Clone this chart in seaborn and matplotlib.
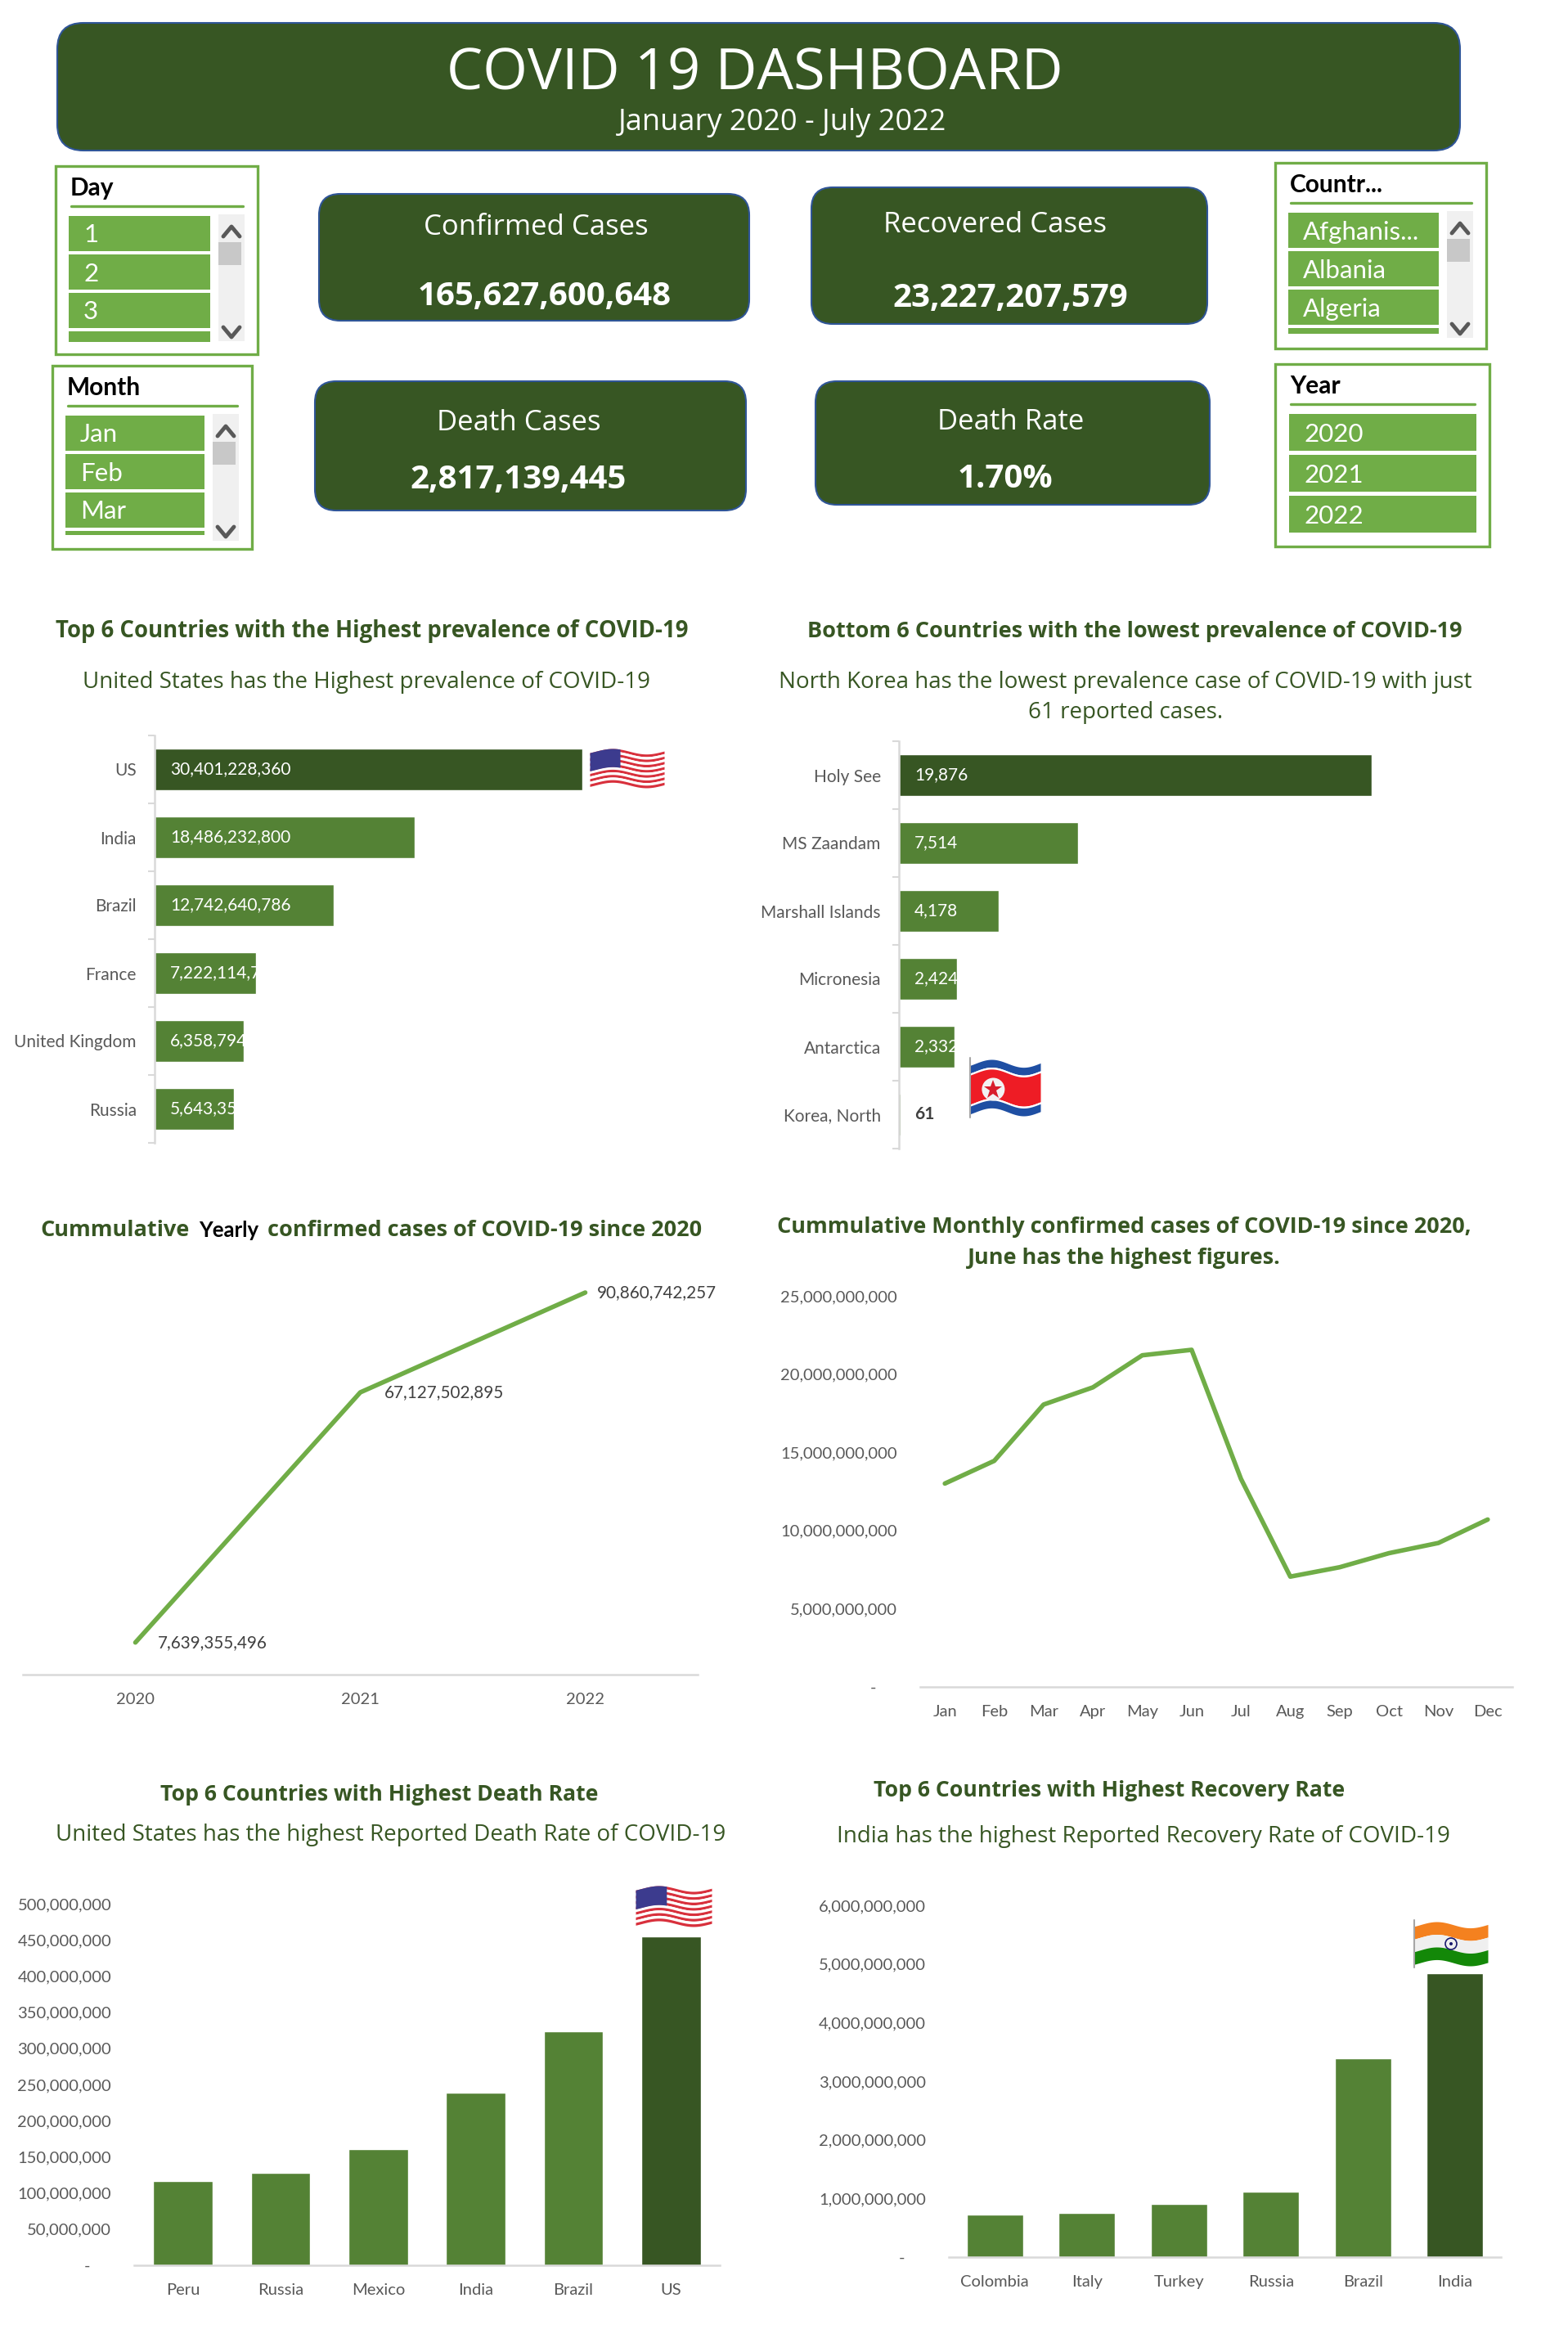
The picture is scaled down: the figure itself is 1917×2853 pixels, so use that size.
#!/usr/bin/env python3
"""
COVID 19 dashboard rebuilt with seaborn
"""

import numpy as np
import pandas as pd
import matplotlib.pyplot as plt
import seaborn as sns
from matplotlib.patches import FancyBboxPatch, Rectangle, Circle
from matplotlib.ticker import FuncFormatter
from matplotlib.transforms import Bbox, TransformedBbox

# =============================================================================
# DATA
# =============================================================================
top_countries = ['US', 'India', 'Brazil', 'France', 'United Kingdom', 'Russia']
top_cases = [30401228360, 18486232800, 12742640786, 7222114700, 6358794000, 5643350000]

bottom_countries = ['Holy See', 'MS Zaandam', 'Marshall Islands', 'Micronesia', 'Antarctica', 'Korea, North']
bottom_cases = [19876, 7514, 4178, 2424, 2332, 61]

years = ['2020', '2021', '2022']
yearly_cases = [7639355496, 67127502895, 90860742257]

months = ['Jan', 'Feb', 'Mar', 'Apr', 'May', 'Jun', 'Jul', 'Aug', 'Sep', 'Oct', 'Nov', 'Dec']
monthly_cases = [13.0e9, 14.45e9, 18.05e9, 19.15e9, 21.2e9, 21.55e9,
                 13.3e9, 7.05e9, 7.65e9, 8.55e9, 9.2e9, 10.7e9]

death_countries = ['Peru', 'Russia', 'Mexico', 'India', 'Brazil', 'US']
death_values = [117e6, 128e6, 160.6e6, 238.6e6, 323e6, 455e6]

recovery_countries = ['Colombia', 'Italy', 'Turkey', 'Russia', 'Brazil', 'India']
recovery_values = [0.73e9, 0.747e9, 0.912e9, 1.115e9, 3.397e9, 4.84e9]

kpi_labels = ['Confirmed Cases', 'Recovered Cases', 'Death Cases', 'Death Rate']
kpi_values = ['165,627,600,648', '23,227,207,579', '2,817,139,445', '1.70%']

# =============================================================================
# STYLE
# =============================================================================
W, H = 1917, 2853
DARK = '#375623'
MID = '#548235'
LIGHT = '#70AD47'
GREY = '#595959'
RULE = '#D9D9D9'
HAND = 'Open Sans'    # no Comic Sans in the sandbox
TICK_SIZE = 14.5

sns.set_style("white")
plt.rcParams['font.family'] = ['Lato', 'DejaVu Sans']
plt.rcParams['font.size'] = TICK_SIZE

fig = plt.figure(figsize=(W / 100, H / 100), dpi=100)
fig.patch.set_facecolor('white')

# overlay in image pixels, used for the cards, slicers, headings and flags
ov = fig.add_axes([0, 0, 1, 1], zorder=5)
ov.set_xlim(0, W)
ov.set_ylim(H, 0)
ov.axis('off')


def px_axes(x0, y0, x1, y1):
    """Axes placed by image pixels"""
    ax = fig.add_axes([x0 / W, 1 - y1 / H, (x1 - x0) / W, (y1 - y0) / H])
    ax.patch.set_alpha(0)
    sns.despine(ax=ax, left=True, right=True, top=True, bottom=True)
    return ax


def head(x, y, text, size=19.5, weight='bold', color=DARK, family=HAND):
    ov.text(x, y, text, ha='center', va='center', fontsize=size, fontweight=weight,
            color=color, family=family)


def card(x0, y0, x1, y1, round_px=26):
    ov.add_patch(FancyBboxPatch((x0, y0), x1 - x0, y1 - y0,
                                boxstyle=f'round,pad=0,rounding_size={round_px}',
                                fc=DARK, ec='#2F5597', lw=1.5))


def slicer(x0, y0, x1, y1, title, items, last_h=None):
    """Excel-like slicer. last_h set means a scrollbar and a cut off last row"""
    ov.add_patch(Rectangle((x0, y0), x1 - x0, y1 - y0, fc='white', ec=LIGHT, lw=2.4))
    ov.text(x0 + 18, y0 + 27, title, fontsize=21.5, fontweight='bold', color='black',
            va='center', ha='left')
    ov.plot([x0 + 19, x1 - 18], [y0 + 49, y0 + 49], color=LIGHT, lw=2.4)
    if last_h is not None:
        left, right, step, tall = x0 + 16, x1 - 58, 47, 43
    else:
        left, right, step, tall = x0 + 17, x1 - 16, 50, 45
    for i, item in enumerate(items):
        ov.add_patch(Rectangle((left, y0 + 61 + i * step), right - left, tall, fc=LIGHT, lw=0))
        ov.text(left + 18, y0 + 63 + i * step + tall / 2, item, color='white', fontsize=22.5,
                va='center', ha='left')
    if last_h is not None:
        ov.add_patch(Rectangle((left, y0 + 61 + 3 * step), right - left, last_h, fc=LIGHT, lw=0))
        sx0, sx1 = x1 - 48, x1 - 16
        top, bot = y0 + 59, y0 + 214
        ov.add_patch(Rectangle((sx0, top), sx1 - sx0, bot - top, fc='#F0F0F0', lw=0))
        ov.add_patch(Rectangle((sx0, y0 + 93), sx1 - sx0 - 4, 28, fc='#C8C8C8', lw=0))
        mid = (sx0 + sx1) / 2
        ov.plot([mid - 10, mid, mid + 10], [top + 27, top + 15, top + 27], color=GREY, lw=3.5)
        ov.plot([mid - 10, mid, mid + 10], [bot - 17, bot - 5, bot - 17], color=GREY, lw=3.5)


def flag(x0, y0, x1, y1, bands, pole=False):
    """Waving flag, bands are (from, to, colour) as fractions of the height"""
    xs = np.linspace(x0, x1, 60)
    t = (xs - x0) / (x1 - x0)
    amp = (y1 - y0) * 0.07
    wave = amp * np.sin(2 * np.pi * t * 1.1 + 2.6)
    height = (y1 - y0) - 2 * amp
    for a, b, c in bands:
        ov.fill_between(xs, y0 + amp + a * height + wave, y0 + amp + b * height + wave,
                        color=c, lw=0)
    if pole:
        ov.plot([x0, x0], [y0 - 2, y1 + 2], color='#A6A6A6', lw=1.5)
    return xs, t, wave, amp, height


def us_flag(x0, y0, x1, y1):
    stripes = [(i / 13, (i + 1) / 13, '#D8303C' if i % 2 == 0 else 'white') for i in range(13)]
    xs, t, wave, amp, height = flag(x0, y0, x1, y1, stripes)
    keep = t <= 0.42
    ov.fill_between(xs[keep], y0 + amp + wave[keep], y0 + amp + 0.54 * height + wave[keep],
                    color='#3C3B8E', lw=0)


def india_flag(x0, y0, x1, y1):
    bands = [(0, 1 / 3, '#F4811F'), (1 / 3, 2 / 3, '#EFEFEF'), (2 / 3, 1, '#138808')]
    flag(x0, y0, x1, y1, bands, pole=True)
    cx, cy = (x0 + x1) / 2, (y0 + y1) / 2
    ov.add_patch(Circle((cx, cy), 7, fc='none', ec='#1A1A6E', lw=1.2))
    ov.add_patch(Circle((cx, cy), 2, fc='#1A1A6E', lw=0))


def nk_flag(x0, y0, x1, y1):
    bands = [(0, 0.16, '#1F4FA3'), (0.16, 0.2, 'white'), (0.2, 0.8, '#EE1C25'),
             (0.8, 0.84, 'white'), (0.84, 1, '#1F4FA3')]
    flag(x0, y0, x1, y1, bands, pole=True)
    cx, cy = x0 + 0.33 * (x1 - x0), (y0 + y1) / 2 + 2
    ov.add_patch(Circle((cx, cy), 14, fc='#F2F2F2', lw=0))
    ov.plot(cx, cy, marker='*', ms=17, color='#D81E2C', mew=0)


def style_value_axis(ax, pad):
    ax.set_xlabel('')
    ax.set_ylabel('')
    ax.yaxis.set_major_formatter(FuncFormatter(lambda v, p: f'{v:,.0f}' if v > 0 else '-     '))
    ax.tick_params(axis='y', length=0, pad=pad, labelcolor=GREY, labelsize=TICK_SIZE)
    ax.tick_params(axis='x', length=0, pad=16, labelcolor=GREY, labelsize=TICK_SIZE)
    ax.spines['bottom'].set_visible(True)
    ax.spines['bottom'].set_color(RULE)
    ax.spines['bottom'].set_linewidth(1.8)


def hbar(box, names, values, xmax, label_pad):
    df = pd.DataFrame({'country': names, 'cases': values})
    colors = [DARK] + [MID] * (len(names) - 1)
    ax = px_axes(*box)
    sns.barplot(data=df, x='cases', y='country', hue='country', palette=colors, legend=False,
                width=0.61, saturation=1, ax=ax)
    ax.set_xlim(0, xmax)
    ax.set_xlabel('')
    ax.set_ylabel('')
    ax.set_xticks([])
    ax.spines['left'].set_visible(True)
    ax.spines['left'].set_color(RULE)
    ax.spines['left'].set_linewidth(1.8)
    ax.tick_params(axis='y', which='major', length=0, pad=16, labelcolor=GREY, labelsize=15)
    ax.set_yticks(np.arange(-0.5, len(names)), minor=True)
    ax.tick_params(axis='y', which='minor', length=6, width=1.5, color=RULE, left=True)
    # value labels stop at the end of their bar, as in the Excel original
    for i, (bar, v) in enumerate(zip(ax.patches, values)):
        txt = ax.annotate(f'{v:,}', (0, i), xytext=(label_pad, 0), textcoords='offset pixels',
                          va='center', ha='left', fontsize=15, color='white')
        if v < 100:
            txt.set_color('#404040')
            txt.set_fontweight('bold')
            continue
        txt.set_clip_on(True)
        txt.set_clip_path(None)
        txt.set_clip_box(TransformedBbox(Bbox(bar.get_bbox()), ax.transData))
    return ax


def vbar(box, names, values, ymax, step, pad):
    df = pd.DataFrame({'country': names, 'value': values})
    colors = [MID] * (len(names) - 1) + [DARK]
    ax = px_axes(*box)
    sns.barplot(data=df, x='country', y='value', hue='country', palette=colors, legend=False,
                width=0.61, saturation=1, ax=ax)
    ax.set_ylim(0, ymax)
    ax.set_yticks(np.arange(0, ymax + 1, step))
    style_value_axis(ax, pad)
    return ax


# =============================================================================
# HEADER AND KPI CARDS
# =============================================================================
card(70, 28, 1785, 184, round_px=32)
head(923, 92, 'COVID 19 DASHBOARD', size=50.7, weight='normal', color='white')
head(957, 150, 'January 2020 - July 2022', size=26, weight='normal', color='white')

card(390, 237, 916, 392)
card(992, 229, 1476, 396)
card(385, 466, 912, 624)
card(997, 466, 1479, 617)

label_xy = [(655, 278), (1216, 275), (634, 517), (1236, 516)]
value_xy = [(666, 363), (1235, 364), (634, 586), (1229, 585)]
for name, val, lxy, vxy in zip(kpi_labels, kpi_values, label_xy, value_xy):
    head(lxy[0], lxy[1], name, size=25, weight='normal', color='white')
    head(vxy[0], vxy[1], val, size=29, weight='bold', color='white')

slicer(68, 203, 315, 433, 'Day', ['1', '2', '3'], last_h=13)
slicer(64, 447, 308, 671, 'Month', ['Jan', 'Feb', 'Mar'], last_h=5)
slicer(1559, 199, 1817, 426, 'Countr...', ['Afghanis...', 'Albania', 'Algeria'], last_h=7)
slicer(1559, 445, 1821, 668, 'Year', ['2020', '2021', '2022'])

# =============================================================================
# TOP / BOTTOM COUNTRIES
# =============================================================================
head(455, 771, 'Top 6 Countries with the Highest prevalence of COVID-19', size=19.8)
head(448, 834, 'United States has the Highest prevalence of COVID-19', size=20, weight='normal')
head(1387, 772, 'Bottom 6 Countries with the lowest prevalence of COVID-19')
head(1376, 834, 'North Korea has the lowest prevalence case of COVID-19 with just', size=20, weight='normal')
head(1376, 871, '61 reported cases.', size=20, weight='normal')

hbar((189, 899, 880, 1397), top_countries, top_cases, 40.2e9, 19)
hbar((1099, 906, 1800, 1404), bottom_countries, bottom_cases, 24100, 19)
us_flag(721, 915, 812, 963)
nk_flag(1186, 1295, 1272, 1364)

# =============================================================================
# CUMULATIVE LINES
# =============================================================================
# left title has one black word, so it goes word group by word group
renderer = fig.canvas.get_renderer()
parts = [('Cummulative', DARK, HAND, 19.5), ('Yearly', 'black', 'Lato', 18.5),
         ('confirmed cases of COVID-19 since 2020', DARK, HAND, 19.5)]
gap = 11
texts = [ov.text(0, 1504, p[0], color=p[1], family=p[2], fontsize=p[3], fontweight='bold',
                 va='center', ha='left') for p in parts]
widths = [t.get_window_extent(renderer).width for t in texts]
x_now = 454 - (sum(widths) + gap * 2) / 2
for t, w in zip(texts, widths):
    t.set_x(x_now)
    x_now += w + gap

head(1374, 1500, 'Cummulative Monthly confirmed cases of COVID-19 since 2020,')
head(1374, 1538, 'June has the highest figures.')

year_df = pd.DataFrame({'year': years, 'cases': yearly_cases})
ax3 = px_axes(28, 1533, 853, 2047)
sns.lineplot(data=year_df, x='year', y='cases', color=LIGHT, lw=4, sort=False, errorbar=None, ax=ax3)
ax3.set_xlim(-0.5, 2.5)
ax3.set_ylim(0, 100e9)
style_value_axis(ax3, 0)
ax3.set_yticks([])
label_shift = [27, 29, 14]
for i, v in enumerate(yearly_cases):
    ax3.annotate(f'{v:,}', (i, v), xytext=(label_shift[i], 0), textcoords='offset pixels',
                 va='center', ha='left', fontsize=14.9, color='#404040')

month_df = pd.DataFrame({'month': months, 'cases': monthly_cases})
ax4 = px_axes(1125, 1584, 1849, 2062)
sns.lineplot(data=month_df, x='month', y='cases', color=LIGHT, lw=4, sort=False, errorbar=None, ax=ax4)
ax4.set_xlim(-0.5, 11.5)
ax4.set_ylim(0, 25e9)
ax4.set_yticks(np.arange(0, 26e9, 5e9))
style_value_axis(ax4, 20)

# =============================================================================
# DEATH AND RECOVERY BARS
# =============================================================================
head(464, 2194, 'Top 6 Countries with Highest Death Rate', size=19.2)
head(478, 2243, 'United States has the highest Reported Death Rate of COVID-19', size=20, weight='normal')
head(1356, 2189, 'Top 6 Countries with Highest Recovery Rate', size=19.2)
head(1398, 2245, 'India has the highest Reported Recovery Rate of COVID-19', size=20, weight='normal')

vbar((164, 2327, 880, 2769), death_countries, death_values, 500e6, 50e6, 20)
vbar((1160, 2329, 1835, 2759), recovery_countries, recovery_values, 6e9, 1e9, 20)
us_flag(777, 2305, 870, 2355)
india_flag(1729, 2349, 1819, 2403)

plt.savefig('out.png', dpi=100, facecolor='white')
